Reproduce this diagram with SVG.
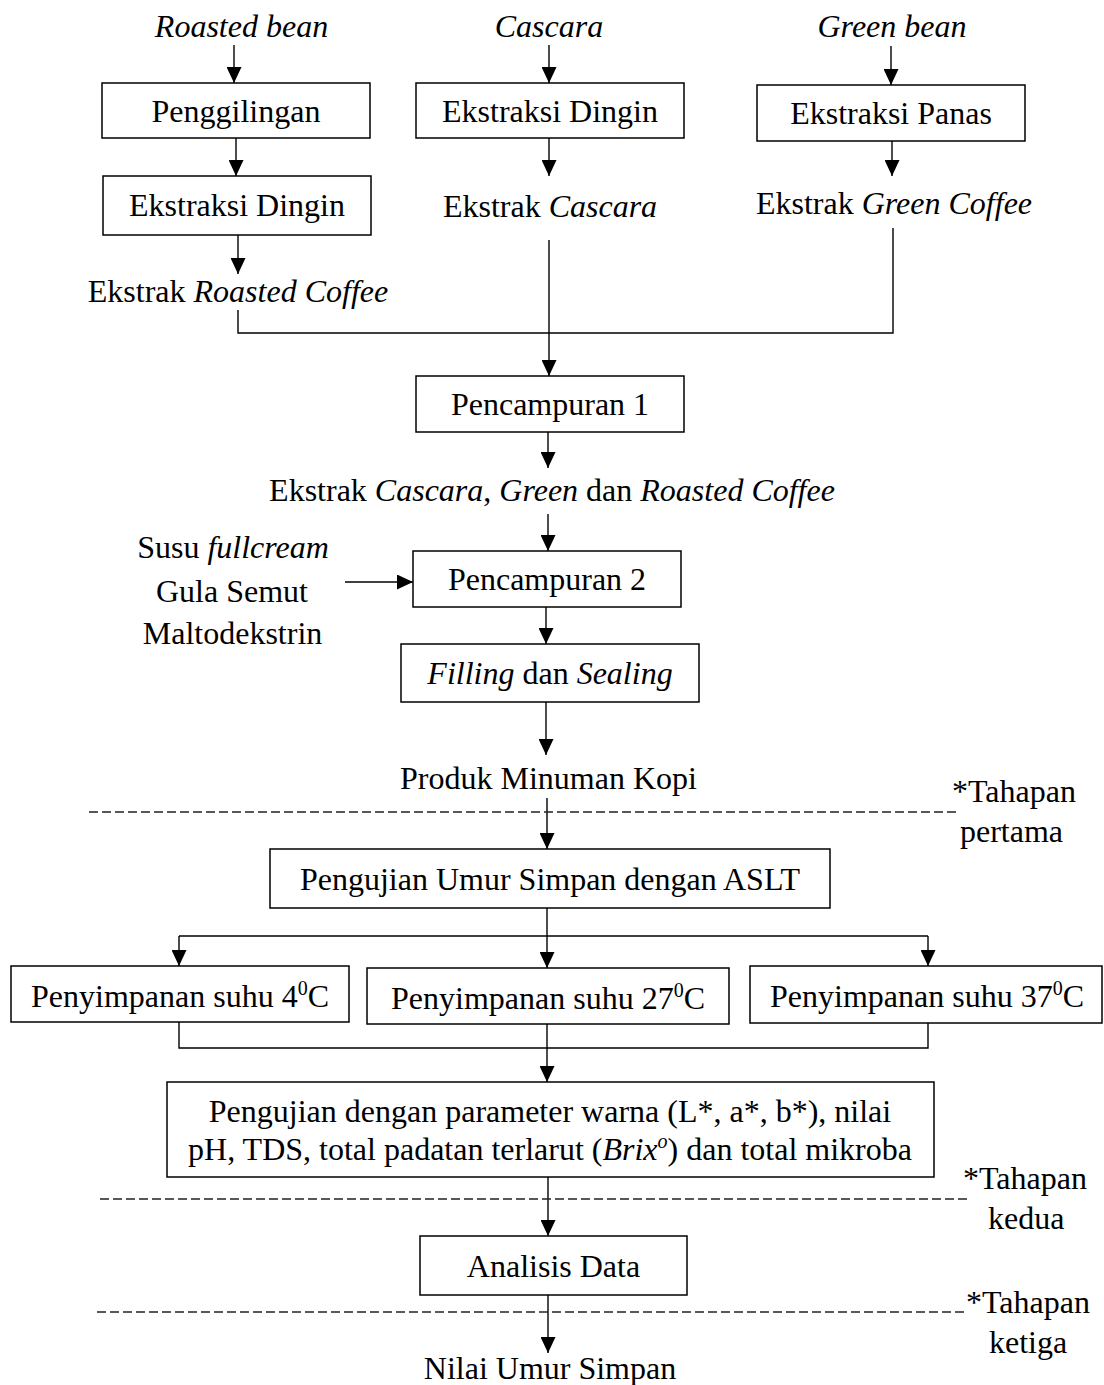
<svg xmlns="http://www.w3.org/2000/svg" width="1104" height="1385" viewBox="0 0 1104 1385">
<style>
  text { font-family: "Liberation Serif", "Times New Roman", serif; font-size: 32px; fill: #000; }
  .c { text-anchor: middle; }
  .i { font-style: italic; }
  .box { fill: #fff; stroke: #000; stroke-width: 1.5; }
  .ln { fill: none; stroke: #000; stroke-width: 1.4; }
  .ar { fill: none; stroke: #000; stroke-width: 1.4; marker-end: url(#ah); }
  .dash { fill: none; stroke: #222; stroke-width: 1.5; stroke-dasharray: 9 4; }
</style>
<defs>
  <marker id="ah" markerUnits="userSpaceOnUse" markerWidth="16" markerHeight="15" viewBox="0 0 16 15" refX="16" refY="7.5" orient="auto">
    <path d="M0,0 L16,7.5 L0,15 z" fill="#000"/>
  </marker>
</defs>
<rect width="1104" height="1385" fill="#fff"/>

<g id="connectors">
  <line class="ar" x1="234" y1="45" x2="234" y2="83"/>
  <line class="ar" x1="549" y1="45" x2="549" y2="83"/>
  <line class="ar" x1="891" y1="46" x2="891" y2="85"/>
  <line class="ar" x1="236" y1="138" x2="236" y2="176"/>
  <line class="ar" x1="238" y1="235" x2="238" y2="274"/>
  <line class="ar" x1="549" y1="138" x2="549" y2="176"/>
  <line class="ar" x1="892" y1="141" x2="892" y2="176"/>
  <polyline class="ln" points="238,310 238,333 893,333 893,228"/>
  <line class="ar" x1="549" y1="240" x2="549" y2="376"/>
  <line class="ar" x1="548" y1="432" x2="548" y2="468"/>
  <line class="ar" x1="548" y1="514" x2="548" y2="551"/>
  <line class="ar" x1="345" y1="582" x2="413" y2="582"/>
  <line class="ar" x1="546" y1="607" x2="546" y2="644"/>
  <line class="ar" x1="546" y1="702" x2="546" y2="755"/>
  <line class="ar" x1="547" y1="798" x2="547" y2="849"/>
  <line class="dash" x1="89" y1="812" x2="958" y2="812"/>
  <line class="ar" x1="547" y1="908" x2="547" y2="968"/>
  <line class="ln" x1="179" y1="936" x2="928" y2="936"/>
  <line class="ar" x1="179" y1="936" x2="179" y2="966"/>
  <line class="ar" x1="928" y1="936" x2="928" y2="966"/>
  <polyline class="ln" points="179,1022 179,1048 928,1048 928,1023"/>
  <line class="ar" x1="547" y1="1024" x2="547" y2="1082"/>
  <line class="ar" x1="548" y1="1177" x2="548" y2="1236"/>
  <line class="dash" x1="100" y1="1199" x2="968" y2="1199"/>
  <line class="ar" x1="548" y1="1295" x2="548" y2="1353"/>
  <line class="dash" x1="97" y1="1312" x2="965" y2="1312"/>
</g>

<g id="roasted-bean"><text class="c i" x="241.5" y="37">Roasted bean</text></g>
<g id="cascara"><text class="c i" x="549" y="37">Cascara</text></g>
<g id="green-bean"><text class="c i" x="892" y="37">Green bean</text></g>

<g id="penggilingan"><rect class="box" x="102" y="83" width="268" height="55"/><text class="c" x="236" y="122">Penggilingan</text></g>
<g id="ekstraksi-dingin-1"><rect class="box" x="103" y="176" width="268" height="59"/><text class="c" x="237" y="216">Ekstraksi Dingin</text></g>
<g id="ekstrak-roasted"><text class="c" x="238" y="302">Ekstrak <tspan class="i">Roasted Coffee</tspan></text></g>

<g id="ekstraksi-dingin-2"><rect class="box" x="416" y="83" width="268" height="55"/><text class="c" x="550" y="122">Ekstraksi Dingin</text></g>
<g id="ekstrak-cascara"><text class="c" x="550" y="217">Ekstrak <tspan class="i">Cascara</tspan></text></g>

<g id="ekstraksi-panas"><rect class="box" x="757" y="85" width="268" height="56"/><text class="c" x="891" y="124">Ekstraksi Panas</text></g>
<g id="ekstrak-green"><text class="c" x="894" y="214">Ekstrak <tspan class="i">Green Coffee</tspan></text></g>

<g id="pencampuran-1"><rect class="box" x="416" y="376" width="268" height="56"/><text class="c" x="550" y="415">Pencampuran 1</text></g>
<g id="ekstrak-campuran"><text class="c" x="552" y="501">Ekstrak <tspan class="i">Cascara</tspan>, <tspan class="i">Green</tspan> dan <tspan class="i">Roasted Coffee</tspan></text></g>

<g id="bahan-tambahan">
  <text class="c" x="233" y="558">Susu <tspan class="i">fullcream</tspan></text>
  <text class="c" x="232" y="602">Gula Semut</text>
  <text class="c" x="232.5" y="644">Maltodekstrin</text>
</g>
<g id="pencampuran-2"><rect class="box" x="413" y="551" width="268" height="56"/><text class="c" x="547" y="590">Pencampuran 2</text></g>
<g id="filling-sealing"><rect class="box" x="401" y="644" width="298" height="58"/><text class="c" x="550" y="684"><tspan class="i">Filling</tspan> dan <tspan class="i">Sealing</tspan></text></g>
<g id="produk"><text class="c" x="548.5" y="789">Produk Minuman Kopi</text></g>
<g id="tahap-1"><text x="952" y="802">*Tahapan</text><text x="960" y="842">pertama</text></g>

<g id="aslt"><rect class="box" x="270" y="849" width="560" height="59"/><text class="c" x="550" y="890">Pengujian Umur Simpan dengan ASLT</text></g>

<g id="suhu-4"><rect class="box" x="11" y="966" width="338" height="56"/><text x="31" y="1007">Penyimpanan suhu 4<tspan font-size="20" dy="-12">0</tspan><tspan dy="12">C</tspan></text></g>
<g id="suhu-27"><rect class="box" x="367" y="968" width="362" height="56"/><text x="391" y="1009">Penyimpanan suhu 27<tspan font-size="20" dy="-12">0</tspan><tspan dy="12">C</tspan></text></g>
<g id="suhu-37"><rect class="box" x="750" y="966" width="352" height="57"/><text x="770" y="1007">Penyimpanan suhu 37<tspan font-size="20" dy="-12">0</tspan><tspan dy="12">C</tspan></text></g>

<g id="pengujian-parameter"><rect class="box" x="167" y="1082" width="767" height="95"/>
  <text class="c" x="550" y="1122">Pengujian dengan parameter warna (L*, a*, b*), nilai</text>
  <text class="c" x="550" y="1160">pH, TDS, total padatan terlarut (<tspan class="i">Brix</tspan><tspan class="i" font-size="20" dy="-12">o</tspan><tspan dy="12">) dan total mikroba</tspan></text>
</g>
<g id="tahap-2"><text x="963" y="1189">*Tahapan</text><text x="988" y="1229">kedua</text></g>

<g id="analisis-data"><rect class="box" x="420" y="1236" width="267" height="59"/><text class="c" x="553.5" y="1277">Analisis Data</text></g>
<g id="tahap-3"><text x="966" y="1313">*Tahapan</text><text x="989" y="1353">ketiga</text></g>

<g id="nilai-umur"><text class="c" x="550" y="1379">Nilai Umur Simpan</text></g>
</svg>
